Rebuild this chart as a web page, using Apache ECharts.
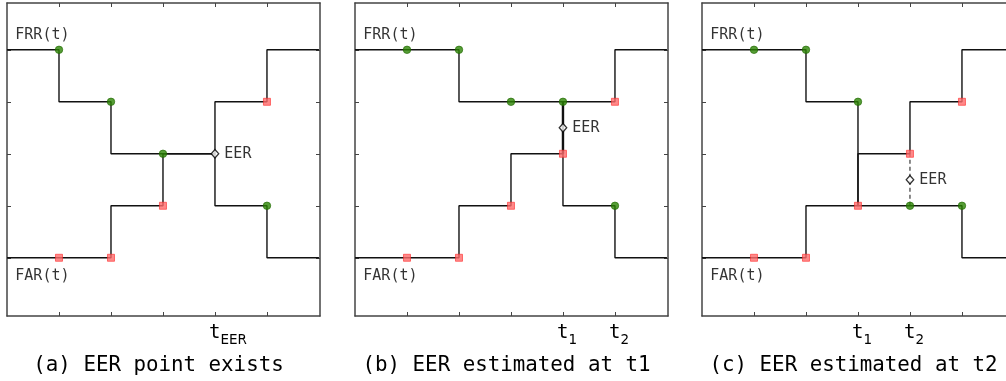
<!DOCTYPE html>
<html><head><meta charset="utf-8">
<script src="https://cdn.jsdelivr.net/npm/echarts@6/dist/echarts.min.js"></script>
<style>html,body{margin:0;padding:0;background:#fff}#c{width:1006px;height:381px}</style>
</head><body><div id="c"></div>
<script>
// ---- data ----
const thresholds = [0, 1, 2, 3, 4, 5, 6];
const frrA = [5, 4, 3, 3, 2, 1];
const farA = [1, 1, 2, 3, 4, 5];
const eerA = [4, 3];
const segA = [];
const frrB = [5, 5, 4, 4, 2, 1];
const farB = [1, 1, 2, 3, 4, 5];
const eerB = [4, 3.5];
const segB = [[4, 3], [4, 4]];
const frrC = [5, 5, 4, 2, 2, 1];
const farC = [1, 1, 2, 3, 4, 5];
const eerC = [4, 2.5];
const segC = [[4, 2], [4, 3]];
const tickValues = [1, 2, 3, 4, 5];
const tickPosA = [4], tickTextA = [['t', 'EER']];
const tickPosB = [4, 5], tickTextB = [['t', '1'], ['t', '2']];
const tickPosC = [3, 4], tickTextC = [['t', '1'], ['t', '2']];
const captions = ['(a) EER point exists', '(b) EER estimated at t1', '(c) EER estimated at t2'];
const curveLabels = ['FRR(t)', 'FAR(t)'];

const panels = [
  {frr: frrA, far: farA, eer: eerA, seg: segA, segType: 'solid', tp: tickPosA, tt: tickTextA},
  {frr: frrB, far: farB, eer: eerB, seg: segB, segType: 'solid', tp: tickPosB, tt: tickTextB},
  {frr: frrC, far: farC, eer: eerC, seg: segC, segType: 'dashed', tp: tickPosC, tt: tickTextC}
];
const lefts = [7, 355, 702];
const W = 313, H = 313, TOP = 3;
const XMAX = 6.02, YMIN = -0.12, YMAX = 5.9;
const FRAME = '#444', LINE = '#111';
const MONO = '"DejaVu Sans Mono", monospace';
const TXT = '#000';

function stepData(vals) {
  const d = vals.map((v, i) => [thresholds[i], v]);
  d.push([thresholds[vals.length], vals[vals.length - 1]]);
  return d;
}
function markerData(vals, eer) {
  const d = [];
  for (let i = 0; i < vals.length - 1; i++) {
    const x = thresholds[i + 1], y = vals[i];
    if (x === eer[0] && y === eer[1]) continue;
    d.push([x, y]);
  }
  return d;
}

const grid = [], xAxis = [], yAxis = [], series = [], graphic = [];
panels.forEach((p, k) => {
  grid.push({left: lefts[k], top: TOP, width: W, height: H, show: false, containLabel: false, outerBoundsMode: 'none'});
  const tick = {show: true, inside: true, length: 4, customValues: tickValues, lineStyle: {color: FRAME, width: 1}};
  const line = {show: true, onZero: false, lineStyle: {color: FRAME, width: 1.5}};
  xAxis.push({
    gridIndex: k, type: 'value', min: 0, max: XMAX, position: 'bottom',
    axisLine: line, axisTick: tick, splitLine: {show: false},
    axisLabel: {
      show: true, customValues: p.tp, margin: 4, color: TXT,
      formatter: function (v) {
        const i = p.tp.indexOf(Math.round(v));
        if (i < 0) return '';
        const t = p.tt[i];
        return '{p' + t[1].length + '| }{t|' + t[0] + '}{s|' + t[1] + '}';
      },
      rich: {
        p1: {width: 8, fontSize: 13},
        p3: {width: 26, fontSize: 13},
        t: {fontSize: 19, fontFamily: MONO, color: TXT},
        s: {fontSize: 13.5, fontFamily: '"DejaVu Sans", sans-serif', color: TXT, padding: [13, 0, 0, 0]}
      }
    }
  });
  xAxis.push({
    gridIndex: k, type: 'value', min: 0, max: XMAX, position: 'top',
    axisLine: line, axisTick: tick, splitLine: {show: false}, axisLabel: {show: false}
  });
  yAxis.push({
    gridIndex: k, type: 'value', min: YMIN, max: YMAX, position: 'left',
    axisLine: line, axisTick: tick, splitLine: {show: false}, axisLabel: {show: false}
  });
  yAxis.push({
    gridIndex: k, type: 'value', min: YMIN, max: YMAX, position: 'right',
    axisLine: line, axisTick: tick, splitLine: {show: false}, axisLabel: {show: false}
  });
  const ax = {xAxisIndex: 2 * k, yAxisIndex: 2 * k};
  [p.frr, p.far].forEach(vals => {
    series.push(Object.assign({
      type: 'line', step: 'end', data: stepData(vals), showSymbol: false, silent: true,
      lineStyle: {color: LINE, width: 1.4}, z: 2
    }, ax));
  });
  if (p.seg.length) {
    series.push(Object.assign({
      type: 'line', data: p.seg, showSymbol: false, silent: true,
      lineStyle: {color: LINE, width: p.segType === 'solid' ? 2.4 : 1, type: p.segType === 'solid' ? 'solid' : [4, 3]}, z: 3
    }, ax));
  }
  series.push(Object.assign({
    type: 'scatter', data: markerData(p.frr, p.eer), symbol: 'circle', symbolSize: 7.5, silent: true,
    itemStyle: {color: '#2c8404', borderColor: '#1f6800', borderWidth: 0.8}, z: 4
  }, ax));
  series.push(Object.assign({
    type: 'scatter', data: markerData(p.far, p.eer), symbol: 'rect', symbolSize: 7, silent: true,
    itemStyle: {color: '#ff6b6b', borderColor: '#ff3030', borderWidth: 0.8}, z: 4
  }, ax));
  series.push(Object.assign({
    type: 'scatter', data: [p.eer], symbol: 'diamond', symbolSize: [7.5, 8.5], silent: true,
    itemStyle: {color: '#fff', borderColor: '#000', borderWidth: 1.3}, z: 5,
    label: {show: true, position: 'right', distance: 5, formatter: 'EER', fontSize: 15, fontFamily: MONO, color: TXT}
  }, ax));
  series.push(Object.assign({
    type: 'scatter', data: [[0.15, 5.29, curveLabels[0]], [0.15, 0.65, curveLabels[1]]],
    symbolSize: 1, silent: true, itemStyle: {color: 'transparent'}, z: 6,
    label: {show: true, position: 'right', distance: 0, formatter: d => d.value[2], fontSize: 15, fontFamily: MONO, color: TXT}
  }, ax));
  graphic.push({
    type: 'text', x: lefts[k] + W / 2 - 5, y: 366, silent: true,
    style: {text: captions[k], fontSize: 20.8, fontFamily: MONO, fill: TXT, align: 'center', verticalAlign: 'middle'}
  });
});

const chart = echarts.init(document.getElementById('c'), null, {renderer: 'canvas'});
chart.setOption({animation: false, backgroundColor: '#fff', grid, xAxis, yAxis, series, graphic});
</script></body></html>
